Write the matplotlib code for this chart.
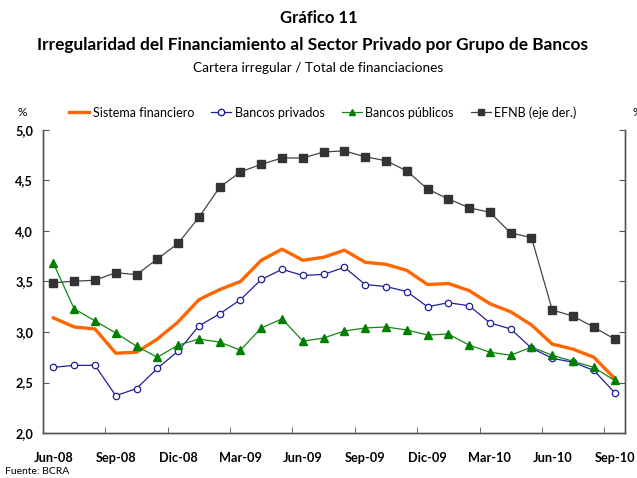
import matplotlib
matplotlib.use("Agg")
import matplotlib.pyplot as plt
from matplotlib.lines import Line2D
from matplotlib.ticker import FuncFormatter

plt.rcParams['font.family'] = ['Lato', 'DejaVu Sans']

# monthly data, Jun-08 .. Sep-10
tick_labels = ["Jun-08", "Sep-08", "Dic-08", "Mar-09", "Jun-09",
               "Sep-09", "Dic-09", "Mar-10", "Jun-10", "Sep-10"]

sistema = [3.14, 3.05, 3.03, 2.79, 2.80, 2.93, 3.10, 3.32, 3.42, 3.50, 3.71, 3.82, 3.71, 3.74,
           3.81, 3.69, 3.67, 3.61, 3.47, 3.48, 3.41, 3.28, 3.20, 3.07, 2.88, 2.83, 2.75, 2.54]
privados = [2.65, 2.67, 2.67, 2.37, 2.44, 2.64, 2.81, 3.06, 3.18, 3.32, 3.52, 3.62, 3.56, 3.57,
            3.64, 3.47, 3.45, 3.40, 3.25, 3.29, 3.26, 3.09, 3.03, 2.84, 2.74, 2.70, 2.62, 2.40]
publicos = [3.68, 3.23, 3.11, 2.99, 2.86, 2.75, 2.87, 2.93, 2.90, 2.82, 3.04, 3.13, 2.91, 2.94,
            3.01, 3.04, 3.05, 3.02, 2.97, 2.98, 2.87, 2.80, 2.77, 2.85, 2.77, 2.71, 2.65, 2.52]
efnb = [7.95, 8.01, 8.05, 8.35, 8.27, 8.89, 9.51, 10.54, 11.73, 12.34, 12.64, 12.89, 12.89, 13.13,
        13.17, 12.94, 12.78, 12.38, 11.66, 11.27, 10.92, 10.74, 9.92, 9.74, 6.87, 6.63, 6.19, 5.72]

x = list(range(len(sistema)))
axis_col = "#555555"

fig = plt.figure(figsize=(6.37, 4.78), dpi=100)
ax = fig.add_axes([0.0675, 0.0941, 0.9137, 0.634])
ax2 = ax.twinx()

ax2.plot(x, efnb, color="#444444", lw=0.9, marker="s", ms=5.2,
         mfc="#333333", mec="#333333", label="EFNB (eje der.)")
ax.plot(x, sistema, color="#ff6600", lw=2.4, label="Sistema financiero", zorder=3)
ax.plot(x, privados, color="#1f1f9a", lw=0.9, marker="o", ms=4.6,
        mfc="white", mec="#1f1f9a", mew=0.9, label="Bancos privados", zorder=4)
ax.plot(x, publicos, color="#118811", lw=0.9, marker="^", ms=5.5,
        mfc="#008000", mec="#008000", label="Bancos públicos", zorder=4)
ax.set_zorder(ax2.get_zorder() + 1)
ax.patch.set_visible(False)

ax.set_xlim(-0.5, len(x) - 0.5)
ax.set_ylim(2.0, 5.0)
ax2.set_ylim(2, 14)
ax.set_yticks([2.0, 2.5, 3.0, 3.5, 4.0, 4.5, 5.0])
ax.yaxis.set_major_formatter(FuncFormatter(lambda v, p: f"{v:.1f}".replace(".", ",")))
ax2.set_yticks(range(2, 15, 2))

ax.set_xticks(x[::3])
ax.set_xticklabels(tick_labels, fontweight="bold", fontsize=9.2)
ax.set_xticks([i + 0.5 for i in range(2, len(x) - 1, 3)], minor=True)
ax.tick_params(axis="x", which="major", length=0, pad=14)
ax.tick_params(axis="x", which="minor", direction="in", length=4, color=axis_col)
ax.tick_params(axis="y", direction="in", length=4, color=axis_col, labelsize=9.2, pad=7)
for t in ax.get_yticklabels():
    t.set_fontweight("bold")
ax2.tick_params(axis="y", direction="in", length=4, color=axis_col, labelsize=9.2, pad=9)
for t in ax2.get_yticklabels():
    t.set_fontweight("bold")

for a in (ax, ax2):
    a.spines["top"].set_visible(False)
    for s in ("left", "right", "bottom"):
        a.spines[s].set_color(axis_col)
        a.spines[s].set_linewidth(1.0)

handles = [
    Line2D([], [], color="#ff6600", lw=2.4),
    Line2D([], [], color="#1f1f9a", lw=0.9, marker="o", ms=4.6, mfc="white", mec="#1f1f9a"),
    Line2D([], [], color="#118811", lw=0.9, marker="^", ms=5, mfc="#008000", mec="#008000"),
    Line2D([], [], color="#444444", lw=0.9, marker="s", ms=4.5, mfc="#333333", mec="#333333"),
]
labels = ["Sistema financiero", "Bancos privados", "Bancos públicos", "EFNB (eje der.)"]
fig.legend(handles, labels, loc="center", bbox_to_anchor=(0.507, 0.765), ncol=4,
           frameon=False, fontsize=9, handlelength=1.6, handletextpad=0.3,
           columnspacing=1.35)

fig.text(0.035, 0.765, "%", fontsize=8.5, ha="center", va="center")
fig.text(0.993, 0.765, "%", fontsize=8.5, ha="left", va="center")

fig.text(0.5, 0.962, "Gráfico 11", ha="center", va="center", fontsize=12, fontweight="bold")
fig.text(0.49, 0.905, "Irregularidad del Financiamiento al Sector Privado por Grupo de Bancos",
         ha="center", va="center", fontsize=12.4, fontweight="bold")
fig.text(0.5, 0.858, "Cartera irregular / Total de financiaciones",
         ha="center", va="center", fontsize=9.8)
fig.text(0.008, 0.004, "Fuente: BCRA", ha="left", va="bottom", fontsize=7.5)

fig.savefig("out.png", dpi=100)
